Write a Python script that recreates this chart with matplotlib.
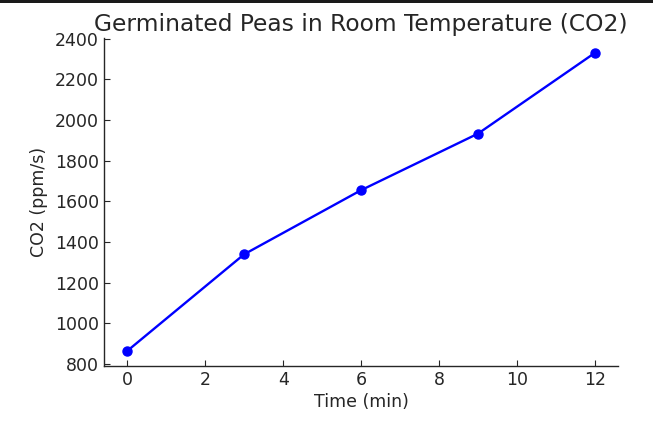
import matplotlib
matplotlib.use("Agg")
import matplotlib.pyplot as plt
from matplotlib.patches import Rectangle

time_min = [0, 3, 6, 9, 12]
co2_ppm = [865, 1340, 1655, 1933, 2330]
x_ticks = [0, 2, 4, 6, 8, 10, 12]
y_ticks = [800, 1000, 1200, 1400, 1600, 1800, 2000, 2200, 2400]

txt = "#262626"
plt.rcParams['font.family'] = ['DejaVu Sans']
fig = plt.figure(figsize=(6.53, 4.21), dpi=100)
ax = fig.add_axes([0.159, 0.131, 0.788, 0.779])
ax.plot(time_min, co2_ppm, color="blue", marker="o", markersize=6.5, linewidth=1.7)
ax.set_xticks(x_ticks)
ax.set_yticks(y_ticks)
ax.set_title("Germinated Peas in Room Temperature (CO2)", fontsize=16.8, color=txt, pad=5)
ax.set_xlabel("Time (min)", fontsize=12.5, color=txt, labelpad=3)
ax.set_ylabel("CO2 (ppm/s)", fontsize=12.5, color=txt, labelpad=5)
ax.tick_params(labelsize=12.5, colors=txt, length=4, direction="in")
for s in ["top", "right"]:
    ax.spines[s].set_visible(False)
for s in ["left", "bottom"]:
    ax.spines[s].set_color(txt)
    ax.spines[s].set_linewidth(1.0)
fig.patches.append(Rectangle((0, 1 - 3/421), 1, 3/421, transform=fig.transFigure,
                             facecolor="#1a1a1a", edgecolor="none"))
fig.savefig("out.png", dpi=100)
